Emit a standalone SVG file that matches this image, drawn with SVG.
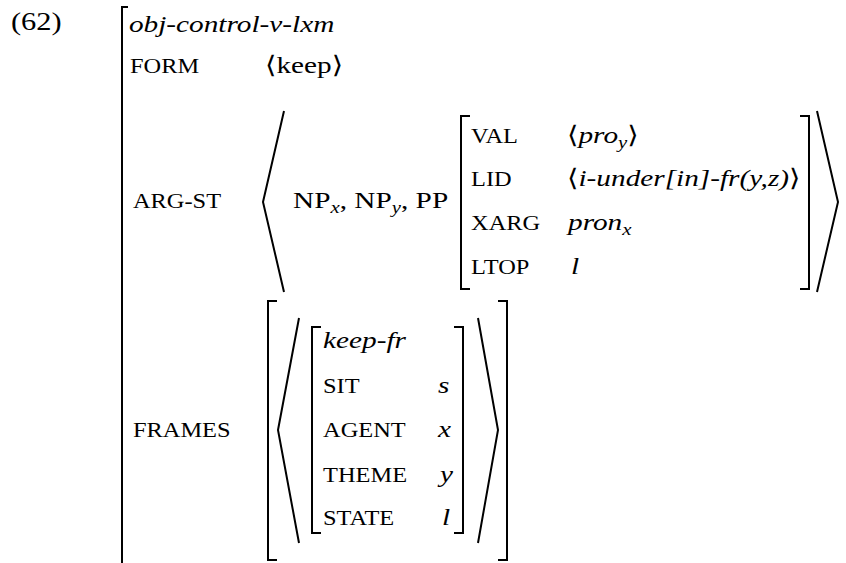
<svg xmlns="http://www.w3.org/2000/svg" width="846" height="563" viewBox="0 0 846 563">
<style>
text{font-family:"Liberation Serif","Times New Roman","DejaVu Serif",serif;fill:#000}
.m{font-size:24px}
.it{font-size:24px;font-style:italic}
.sc{font-size:20px}
.sub{font-size:17px;font-style:italic}
.up{font-style:normal}
.br{fill:none;stroke:#000;stroke-width:2}
.ang{fill:none;stroke:#000;stroke-width:2;stroke-linejoin:miter}
</style>
<rect width="846" height="563" fill="#fff"/>
<g id="brackets">
<path class="br" d="M128,7 H122 V563"/>
<path class="ang" d="M284,111 L263,202 L284,292"/>
<path class="br" d="M470,116 H461 V289 H470"/>
<path class="br" d="M800,116 H809 V289 H800"/>
<path class="ang" d="M817,111 L838,202 L817,292"/>
<path class="br" d="M277,301 H268 V560 H277"/>
<path class="br" d="M498,301 H507 V560 H498"/>
<path class="ang" d="M299,318 L278,430 L299,543"/>
<path class="ang" d="M478,318 L498,430 L478,543"/>
<path class="br" d="M321,327 H312 V533 H321"/>
<path class="br" d="M454,327 H463 V533 H454"/>
</g>
<g id="labels" transform="scale(1.22 1)">
<text class="m" x="9" y="30" style="font-size:25px">(62)</text>
<g id="outer">
<text class="it" x="105.7" y="32">obj-control-v-lxm</text>
<text class="sc" x="106.6" y="73">FORM</text>
<text class="m" x="217.2" y="73">⟨keep⟩</text>
</g>
<g id="argst">
<text class="sc" x="109" y="208">ARG-ST</text>
<text class="m" x="240.2" y="208">NP<tspan class="sub" dy="5">x</tspan><tspan dy="-5">, NP</tspan><tspan class="sub" dy="5">y</tspan><tspan dy="-5">, PP</tspan></text>
<text class="sc" x="386.1" y="143">VAL</text>
<text class="it" x="464.8" y="143"><tspan class="up">⟨</tspan>pro<tspan class="sub" dy="5">y</tspan><tspan dy="-5" class="up">⟩</tspan></text>
<text class="sc" x="386.1" y="186">LID</text>
<text class="it" x="464.8" y="186"><tspan class="up">⟨</tspan>i-under[in]-fr(y,z)<tspan class="up">⟩</tspan></text>
<text class="sc" x="386.1" y="230">XARG</text>
<text class="it" x="465.6" y="230">pron<tspan class="sub" dy="5">x</tspan></text>
<text class="sc" x="386.1" y="274">LTOP</text>
<text class="it" x="468" y="274">l</text>
</g>
<g id="frames">
<text class="sc" x="109" y="437">FRAMES</text>
<g id="keep-fr">
<text class="it" x="264.8" y="348">keep-fr</text>
<text class="sc" x="264.8" y="393">SIT</text>
<text class="it" x="359" y="393">s</text>
<text class="sc" x="264.8" y="437">AGENT</text>
<text class="it" x="359" y="437">x</text>
<text class="sc" x="264.8" y="482">THEME</text>
<text class="it" x="360.7" y="482">y</text>
<text class="sc" x="264.8" y="525">STATE</text>
<text class="it" x="362.3" y="525">l</text>
</g>
</g>
</g>
</svg>
